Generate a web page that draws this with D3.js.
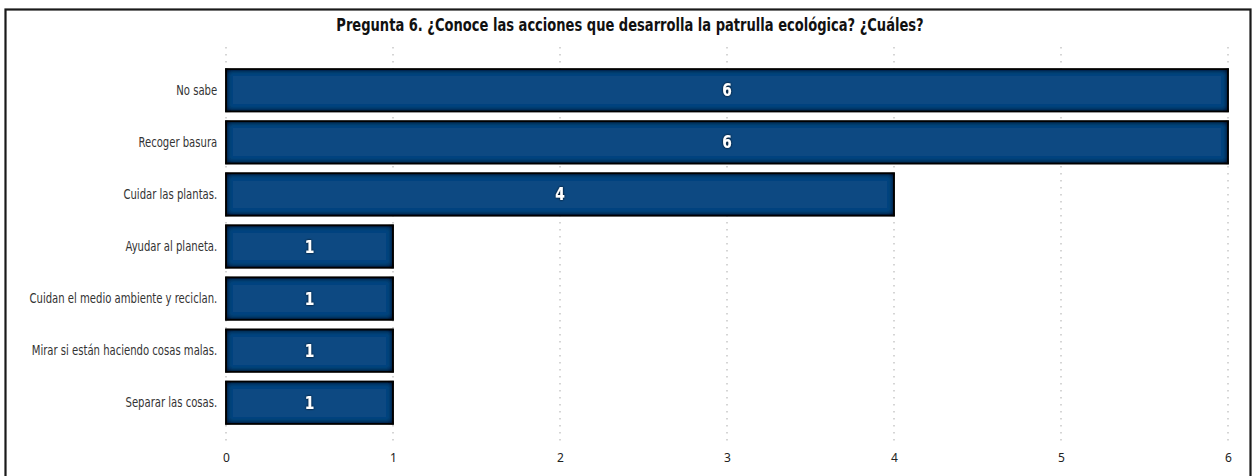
<!DOCTYPE html>
<html>
<head>
<meta charset="utf-8">
<script src="https://cdn.jsdelivr.net/npm/d3@7"></script>
<style>
  body { margin: 0; background: white; }
</style>
</head>
<body>
<div id="chart"></div>
<script>
// Pregunta 6 data
const categories = [
  "No sabe",
  "Recoger basura",
  "Cuidar las plantas.",
  "Ayudar al planeta.",
  "Cuidan el medio ambiente y reciclan.",
  "Mirar si están haciendo cosas malas.",
  "Separar las cosas."
];
const counts = [6, 6, 4, 1, 1, 1, 1];
const xTicks = [0, 1, 2, 3, 4, 5, 6];
const title = "Pregunta 6. ¿Conoce las acciones que desarrolla la patrulla ecológica? ¿Cuáles?";

const W = 1252, H = 476;
const margin = { top: 64, left: 226, right: 24, bottom: 47 };
const narrow = "'DejaVu Sans Condensed', 'Liberation Sans Narrow', sans-serif";

let svg = d3.select('#chart')
  .append('svg')
  .attr('width', W)
  .attr('height', H)
  .style('display', 'block');

// inner shadow for the bars
let defs = svg.append('defs');
let f = defs.append('filter').attr('id', 'inner')
  .attr('x', '-5%').attr('y', '-20%').attr('width', '110%').attr('height', '140%');
f.append('feFlood').attr('flood-color', '#000208').attr('result', 'flood');
f.append('feComposite').attr('in', 'flood').attr('in2', 'SourceAlpha').attr('operator', 'out').attr('result', 'outside');
f.append('feGaussianBlur').attr('in', 'outside').attr('stdDeviation', 3.2).attr('result', 'blur');
f.append('feComposite').attr('in', 'blur').attr('in2', 'SourceAlpha').attr('operator', 'in').attr('result', 'shadow');
let fm = f.append('feMerge');
fm.append('feMergeNode').attr('in', 'SourceGraphic');
fm.append('feMergeNode').attr('in', 'shadow');
fm.append('feMergeNode').attr('in', 'shadow');
fm.append('feMergeNode').attr('in', 'shadow');

let txtShadow = defs.append('filter').attr('id', 'txtshadow')
  .attr('x', '-50%').attr('y', '-50%').attr('width', '200%').attr('height', '200%');
txtShadow.append('feDropShadow').attr('dx', 0).attr('dy', 0).attr('stdDeviation', 1.3)
  .attr('flood-color', '#000').attr('flood-opacity', 1);

// outer frame
svg.append('rect')
  .attr('x', 5.5).attr('y', 9.5)
  .attr('width', 1245).attr('height', 480)
  .style('fill', 'none')
  .style('stroke', '#1a1a1a')
  .style('stroke-width', 2.2);

// title (condensed by a horizontal scale)
svg.append('text')
  .attr('transform', 'translate(630,31) scale(0.83,1)')
  .text(title)
  .style('font-family', narrow)
  .style('font-size', '17.5px')
  .style('font-weight', 'bold')
  .style('fill', '#111')
  .style('text-anchor', 'middle');

let x = d3.scaleLinear()
  .domain([0, 6])
  .range([margin.left, W - margin.right]);

let y = d3.scaleBand()
  .domain(categories)
  .range([margin.top, H - margin.bottom])
  .paddingInner(0.19)
  .paddingOuter(0.1);

// dotted vertical grid lines
svg.append('g')
  .selectAll('line')
  .data(xTicks)
  .join('line')
  .attr('x1', d => x(d)).attr('x2', d => x(d))
  .attr('y1', 47).attr('y2', 443)
  .style('stroke', '#c4c4c4')
  .style('stroke-width', 1.4)
  .style('stroke-dasharray', '1.5,5.5');

// x axis labels
let xAxis = d3.axisBottom(x).tickValues(xTicks).tickSize(0).tickFormat(d3.format('d'));
let gx = svg.append('g')
  .attr('transform', 'translate(0,' + 450 + ')')
  .call(xAxis);
gx.select('.domain').remove();
gx.selectAll('text')
  .style('font-family', "'Noto Sans', 'Open Sans', sans-serif")
  .style('font-size', '12px')
  .style('fill', '#222');

// y axis labels
let yAxis = d3.axisLeft(y).tickSize(0).tickPadding(11);
let gy = svg.append('g')
  .attr('transform', 'translate(' + margin.left + ',0)')
  .call(yAxis);
gy.select('.domain').remove();
gy.selectAll('text')
  .attr('transform', 'scale(0.8,1)')
  .style('font-family', narrow)
  .style('font-size', '14px')
  .style('fill', '#333');

// bars
svg.append('g')
  .selectAll('rect')
  .data(categories)
  .join('rect')
  .attr('x', x(0))
  .attr('y', d => y(d))
  .attr('width', (d, i) => x(counts[i]) - x(0))
  .attr('height', y.bandwidth())
  .style('fill', '#0c4a82')
  .style('stroke', '#111')
  .style('stroke-width', 1.6)
  .attr('filter', 'url(#inner)');

// value labels
svg.append('g')
  .selectAll('text')
  .data(categories)
  .join('text')
  .attr('transform', (d, i) => 'translate(' + (x(0) + x(counts[i])) / 2 + ',' + (y(d) + y.bandwidth() / 2 + 6) + ') scale(0.9,1)')
  .text((d, i) => counts[i])
  .style('font-family', narrow)
  .style('font-size', '17px')
  .style('font-weight', 'bold')
  .style('fill', 'white')
  .style('text-anchor', 'middle')
  .attr('filter', 'url(#txtshadow)');
</script>
</body>
</html>
